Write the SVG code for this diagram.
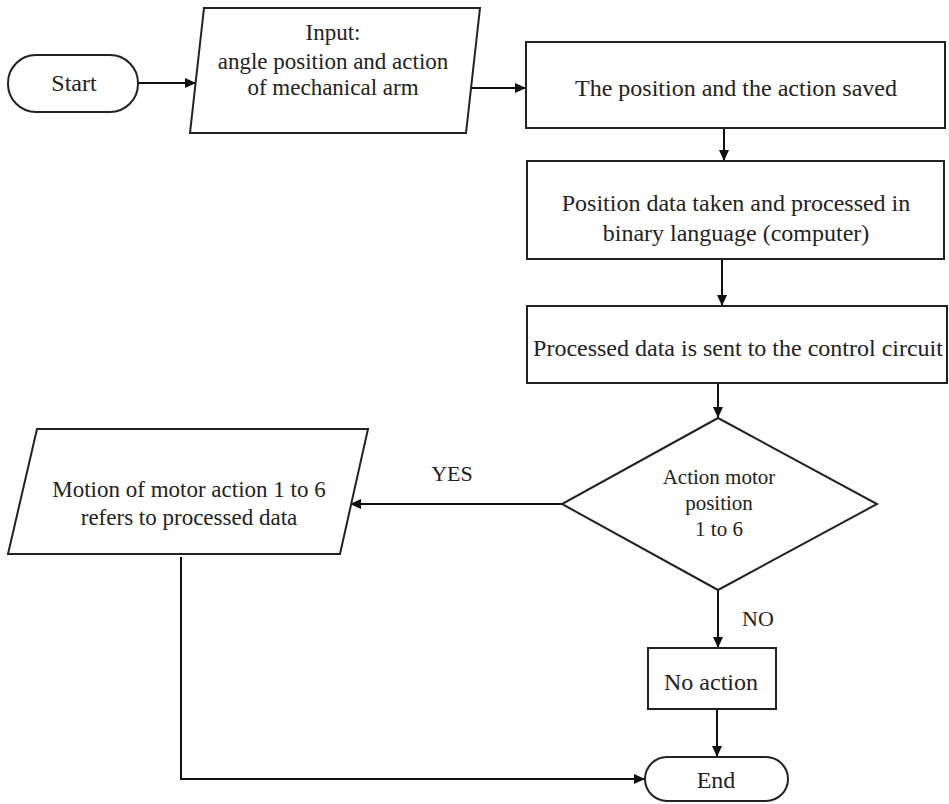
<svg xmlns="http://www.w3.org/2000/svg" width="949" height="804" viewBox="0 0 949 804">
<style>
.s{fill:#fff;stroke:#222;stroke-width:2}
.c{fill:none;stroke:#111;stroke-width:2}
text{fill:#222;text-anchor:middle}
.t24{font-size:24px}
.t23{font-size:23px}
.t21{font-size:21px}
.t22{font-size:22px}
</style>
<defs>
<marker id="ah" markerUnits="userSpaceOnUse" markerWidth="12" markerHeight="10" refX="11" refY="5" orient="auto">
<path d="M0,0 L11,5 L0,10 Z" fill="#111"/>
</marker>
</defs>
<rect width="949" height="804" fill="#fff"/>
<g font-family="'Liberation Serif', 'Times New Roman', 'DejaVu Serif', serif">
<g id="connectors">
<path class="c" d="M138,83 H196" marker-end="url(#ah)"/>
<path class="c" d="M471,88 H526" marker-end="url(#ah)"/>
<path class="c" d="M724,128 V161" marker-end="url(#ah)"/>
<path class="c" d="M722,259 V306" marker-end="url(#ah)"/>
<path class="c" d="M718,383 V418" marker-end="url(#ah)"/>
<path class="c" d="M562,504 H350" marker-end="url(#ah)"/>
<path class="c" d="M718,590 V648" marker-end="url(#ah)"/>
<path class="c" d="M717,709 V757" marker-end="url(#ah)"/>
<path class="c" d="M181,557 V779 H645" marker-end="url(#ah)"/>
<text class="t22" x="452" y="481">YES</text>
<text class="t22" x="758" y="626">NO</text>
</g>
<g id="start">
<rect class="s" x="8" y="55" width="130" height="57" rx="28"/>
<text class="t24" x="74" y="91">Start</text>
</g>
<g id="input">
<polygon class="s" points="204,8 480,8 466,133 190,133"/>
<text class="t23" x="333" y="40">Input:</text>
<text class="t23" x="333" y="69">angle position and action</text>
<text class="t23" x="333" y="95">of mechanical arm</text>
</g>
<g id="saved">
<rect class="s" x="526" y="42" width="419" height="86"/>
<text class="t24" x="736" y="96">The position and the action saved</text>
</g>
<g id="processed">
<rect class="s" x="527" y="161" width="417" height="98"/>
<text class="t24" x="736" y="211">Position data taken and processed in</text>
<text class="t24" x="736" y="241">binary language (computer)</text>
</g>
<g id="sent">
<rect class="s" x="527" y="306" width="420" height="77"/>
<text class="t24" x="738" y="356">Processed data is sent to the control circuit</text>
</g>
<g id="decision">
<polygon class="s" points="718,418 877,504 718,590 562,504"/>
<text class="t21" x="719" y="484">Action motor</text>
<text class="t21" x="719" y="510">position</text>
<text class="t21" x="719" y="536">1 to 6</text>
</g>
<g id="motion">
<polygon class="s" points="37,429 368,429 340,554 8,554"/>
<text class="t23" x="189" y="497">Motion of motor action 1 to 6</text>
<text class="t23" x="189" y="525">refers to processed data</text>
</g>
<g id="noaction">
<rect class="s" x="648" y="648" width="128" height="61"/>
<text class="t24" x="711" y="690">No action</text>
</g>
<g id="end">
<rect class="s" x="645" y="757" width="143" height="44" rx="22"/>
<text class="t24" x="716" y="788">End</text>
</g>
</g>
</svg>
